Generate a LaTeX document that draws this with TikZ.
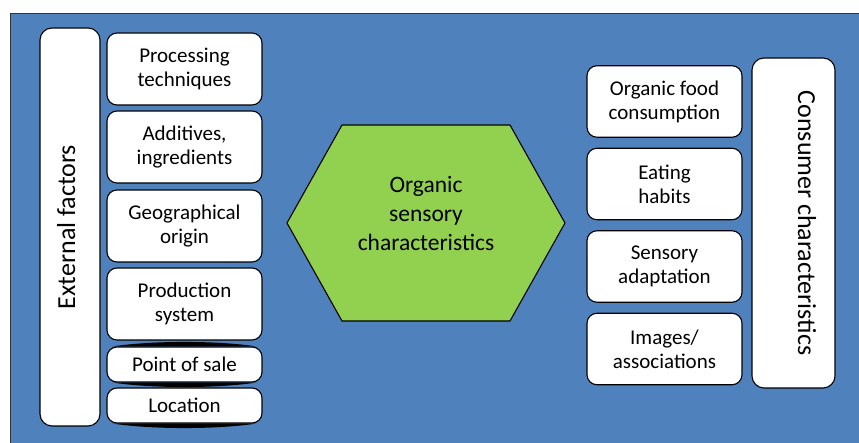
\documentclass[tikz,border=0pt]{standalone}
\usepackage{fontspec}
\setmainfont{Carlito}
\definecolor{panelblue}{HTML}{4F81BD}
\definecolor{hexgreen}{HTML}{92D050}
\tikzset{
	factorbox/.style={draw=black, fill=white, line width=1.1pt, rounded corners=10pt,
		minimum width=155pt, inner sep=0pt, align=center, font=\fontsize{21}{24}\selectfont},
	sidebar/.style={draw=black, fill=white, line width=1.1pt, rounded corners=12pt,
		inner sep=0pt, font=\fontsize{26}{30}\selectfont}
}
\begin{document}
\begin{tikzpicture}[x=1pt,y=1pt]
				\useasboundingbox (0,0) rectangle (859,443);
				\fill[white] (0,0) rectangle (859,443);
				\draw[fill=panelblue, draw=black!80, line width=0.8pt] (10,430) rectangle (875,-15);
				% left column
				\node[sidebar, rotate=90, minimum width=398pt, minimum height=60pt,
					text height=20pt, text depth=10pt] (external) at (70,216) {External factors};
				\foreach \name/\y/\h/\txt in {proc/374/72/{Processing\\techniques},
					additive/296/72/{Additives,\\ingredients},
					origin/217/72/{Geographical\\origin},
					prodsys/139/72/{Production\\system},
					sale/78.5/35/{Point of sale},
					location/37.5/35/{Location}}
				{
					\node[factorbox, minimum height=\h pt] (\name) at (184.5,\y) {\txt};
				}
				% dark edges of the two small boxes
				\fill[black] ([xshift=6pt]sale.north west) .. controls +(40,6) and +(-40,6) .. ([xshift=-6pt]sale.north east) -- cycle;
				\fill[black] ([xshift=6pt]sale.south west) .. controls +(40,-6) and +(-40,-6) .. ([xshift=-6pt]sale.south east) -- cycle;
				\fill[black] ([xshift=6pt]location.south west) .. controls +(40,-6) and +(-40,-6) .. ([xshift=-6pt]location.south east) -- cycle;
				% centre
				\draw[fill=hexgreen, line width=1.1pt] (287,220) -- (342,318) -- (510,318) -- (565,220) -- (510,122) -- (342,122) -- cycle;
				\node[align=center, font=\fontsize{23.5}{29}\selectfont] (core) at (426,229) {Organic\\sensory\\characteristics};
				% right column
				\foreach \name/\y/\txt in {food/341.5/{Organic food\\consumption},
					habits/259/{Eating\\habits},
					adapt/176.5/{Sensory\\adaptation},
					images/94/{Images/\\associations}}
				{
					\node[factorbox, minimum height=71.5pt] (\name) at (664.5,\y) {\txt};
				}
				\node[sidebar, rotate=-90, minimum width=330pt, minimum height=83pt,
					text height=20pt, text depth=29pt] (consumer) at (793.5,220) {Consumer characteristics};
\end{tikzpicture}
\end{document}
